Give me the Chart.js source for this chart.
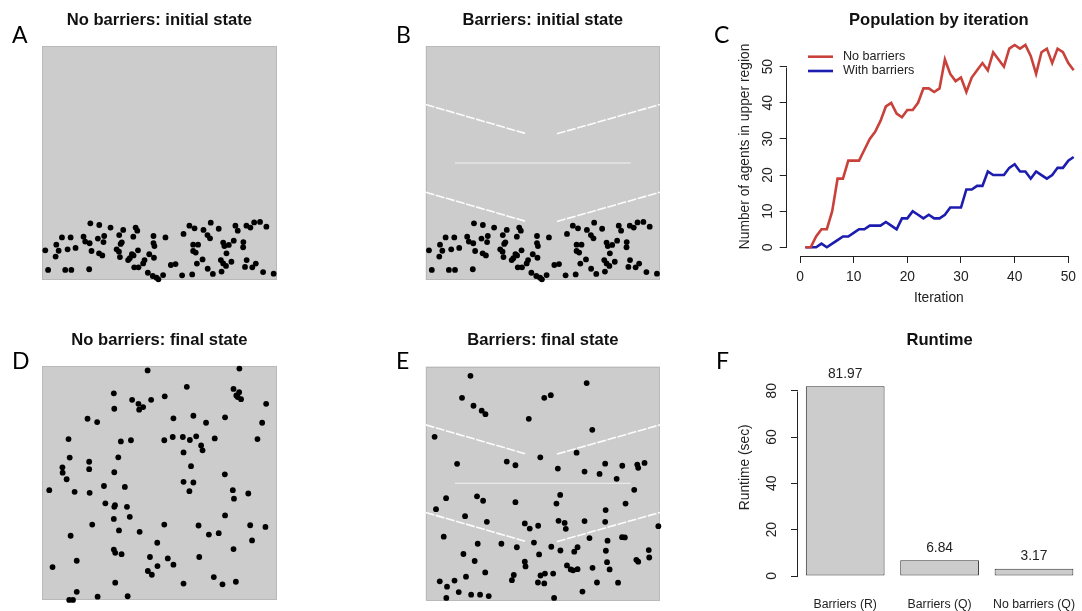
<!DOCTYPE html>
<html>
<head>
<meta charset="utf-8">
<title>Agents moving to the upper region</title>
<script src="https://cdn.jsdelivr.net/npm/chart.js@4.4.1/dist/chart.umd.min.js"></script>
<style>
  html, body { margin: 0; padding: 0; background: #fff; }
  body { width: 1082px; height: 611px; overflow: hidden; position: relative; }
  canvas { position: absolute; }
  .tag { position: absolute; font-family: Lato, 'Open Sans', sans-serif; font-size: 23px; line-height: 23px; color: #000; }
</style>
</head>
<body>
<canvas id="pA" width="330" height="310" style="left:0;top:0"></canvas>
<canvas id="pB" width="330" height="310" style="left:383px;top:0"></canvas>
<canvas id="pC" width="392" height="310" style="left:700px;top:0"></canvas>
<canvas id="pD" width="330" height="291" style="left:0;top:320px"></canvas>
<canvas id="pE" width="330" height="291" style="left:383px;top:320px"></canvas>
<canvas id="pF" width="392" height="291" style="left:700px;top:320px"></canvas>
<div class="tag" style="left:12px;top:23px">A</div>
<div class="tag" style="left:396px;top:23px">B</div>
<div class="tag" style="left:714px;top:23px">C</div>
<div class="tag" style="left:12px;top:349px">D</div>
<div class="tag" style="left:396px;top:349px">E</div>
<div class="tag" style="left:716px;top:349px">F</div>
<script>
'use strict';

// agent positions (0-100 world units), same start for both runs
const initX = [20.6,24.4,29.2,34.6,39.9,40.6,32.9,38.9,47.5,52.6,60.3,62.8,65.0,68.8,71.9,75.3,70.5,71.6,82.4,83.4,
  87.1,88.8,90.4,92.9,95.6,8.5,12.2,17.7,18.4,20.3,23.8,26.5,26.2,6.1,7.1,1.4,10.9,14.3,5.8,21.1,
  24.3,25.7,33.5,34.0,31.8,32.8,33.2,38.3,37.4,40.9,39.0,36.7,47.5,47.9,45.7,47.7,43.7,43.1,41.1,39.3,
  45.1,47.2,48.8,49.6,51.6,54.9,56.9,59.7,64.0,64.4,66.5,64.4,65.5,68.4,66.0,70.6,72.8,77.2,77.7,79.6,
  81.7,85.8,85.7,78.6,76.2,77.2,78.4,80.7,76.5,87.2,86.5,89.6,91.1,94.2,98.7,2.6,9.9,12.5,20.1];
const initY = [24.2,23.5,22.4,21.4,22.4,21.1,19.2,18.5,18.8,18.2,19.7,23.2,22.1,21.4,24.5,21.9,19.2,17.8,23.2,21.1,
  23.2,22.4,24.6,24.8,22.8,18.2,18.2,18.5,16.4,15.7,17.7,18.8,16.2,15.1,12.5,12.7,13.1,13.7,10.0,12.4,
  11.4,10.5,15.4,16.1,13.1,12.1,9.8,11.1,9.3,12.7,10.5,8.5,15.8,14.5,11.0,9.5,8.5,7.1,5.4,5.4,
  3.1,1.7,1.0,0.3,2.1,6.4,6.8,2.0,2.4,15.1,15.1,12.4,11.7,8.8,7.0,4.8,2.6,16.0,14.5,15.0,
  16.8,16.2,14.0,11.4,8.5,7.1,6.0,7.8,3.6,8.5,5.6,5.4,7.0,3.4,2.7,4.3,4.3,4.3,4.6];

const freeX = [45.0,84.1,61.7,81.6,84.0,82.8,83.4,84.8,95.5,30.6,30.8,38.4,41.1,43.1,41.4,46.5,52.3,19.4,23.5,56.0,
  64.5,69.9,78.0,93.8,11.3,33.6,37.9,52.1,55.7,60.0,63.0,65.7,67.8,68.4,73.6,91.8,60.3,11.8,20.1,32.5,
  20.1,8.7,8.8,10.5,30.8,63.5,77.9,60.3,64.5,3.1,13.9,20.3,26.4,35.3,62.8,81.3,87.9,81.8,27.0,
  31.1,30.8,36.2,30.6,37.4,21.4,32.8,41.6,52.1,66.7,71.1,75.3,78.0,88.7,95.2,89.5,12.2,49.1,30.6,31.2,
  33.9,14.8,4.5,46.0,53.6,56.0,49.2,67.0,81.6,45.1,46.8,73.2,76.9,82.6,31.2,60.3,14.8,11.6,13.2,23.7,36.5];
const freeY = [98.1,98.9,91.1,90.2,88.8,87.4,86.7,85.8,83.8,88.3,81.7,85.5,83.8,82.4,81.3,85.5,87.0,77.4,76.0,77.6,
  78.7,75.7,78.0,75.7,68.7,67.7,68.2,68.2,69.6,69.6,68.3,69.9,66.0,63.9,69.0,68.7,63.0,60.8,59.0,60.9,
  55.8,56.6,54.3,51.5,54.5,57.1,53.6,50.4,50.1,46.8,46.1,45.7,48.6,48.2,46.4,46.8,45.4,43.2,41.2,
  40.4,39.7,39.7,34.5,35.4,32.1,29.6,29.0,32.1,31.7,27.8,28.4,36.0,31.8,31.1,25.3,27.3,24.3,21.4,20.0,
  19.4,16.6,13.9,18.2,17.6,14.9,14.3,18.2,21.6,12.2,10.6,9.6,6.5,7.6,7.2,6.8,3.3,-0.2,-0.2,1.2,1.4];

const walledX = [19.1,15.5,20.4,23.9,25.5,44.0,50.6,53.4,68.7,71.1,3.8,13.4,34.6,38.3,48.9,56.4,64.4,67.8,74.2,76.6,
  81.5,83.9,90.3,90.7,93.4,89.0,8.7,21.9,24.5,38.3,57.4,55.8,85.3,4.4,76.8,16.8,26.1,42.3,44.4,48.0,
  56.7,59.3,59.8,67.8,76.6,99.3,7.7,22.2,32.3,38.9,46.2,53.6,57.5,63.4,64.8,69.9,77.6,76.9,83.8,85.0,
  16.1,20.9,48.4,42.3,42.6,60.3,61.9,62.9,64.8,71.2,77.4,78.5,89.9,90.7,95.2,95.4,25.4,37.6,36.8,49.0,
  50.9,54.4,47.9,50.6,17.2,6.0,9.1,12.3,14.1,19.4,23.2,26.9,8.8,54.8,66.9,73.1,82.1];
const walledY = [96.0,86.6,83.2,81.1,79.6,77.6,86.6,87.7,92.9,72.9,69.9,58.3,59.3,57.7,61.1,56.3,63.1,55.0,54.0,58.4,
  51.9,57.5,58.0,56.6,58.7,47.2,43.6,44.4,42.5,41.9,45.0,41.3,41.3,38.9,38.5,35.9,33.5,32.8,30.6,31.8,
  33.9,33.0,30.5,33.8,33.5,31.6,27.1,24.1,24.1,22.6,24.6,22.8,21.2,20.7,22.6,26.5,25.4,21.1,26.9,26.8,
  19.7,16.7,19.5,16.4,14.4,14.8,13.1,12.7,13.2,13.8,16.2,13.1,17.2,16.4,21.4,18.2,11.8,10.7,8.5,10.5,
  11.3,11.3,7.5,7.1,10.0,8.0,5.7,8.3,3.4,2.3,2.3,1.7,0.9,0.9,3.6,7.5,7.4];

// wall segments: [x0, x1] / [y0, y1]
const barrierX = [[0, 43], [56, 100], [12.5, 87.5], [0, 43], [56, 100]];
const barrierY = [[75, 62.5], [62.5, 75], [50, 50], [37.5, 25], [25, 37.5]];

const iterations = [1,2,3,4,5,6,7,8,9,10,11,12,13,14,15,16,17,18,19,20,21,22,23,24,25,26,
  27,28,29,30,31,32,33,34,35,36,37,38,39,40,41,42,43,44,45,46,47,48,49,50,51];
const popNoBarriers = [0,0,3,5,5,10,19,19,24,24,24,27,30,32,35,39,40,37,36,38,38,40,44,44,43,44,
  52,48,46,47,43,47,49,51,49,54,52,50,55,56,55,56,53,48,54,55,51,55,54,51,49];
const popBarriers = [0,0,0,1,0,1,2,3,3,4,5,5,6,6,6,7,6,5,8,8,10,9,8,9,8,8,
  9,11,11,11,16,16,17,17,21,20,20,20,22,23,21,21,19,21,20,19,20,22,22,24,25];
const iterTicks = [0, 10, 20, 30, 40, 50];
const popTicks = [0, 10, 20, 30, 40, 50];

const runNames = ['Barriers (R)', 'Barriers (Q)', 'No barriers (Q)'];
const runSeconds = [81.97, 6.84, 3.17];
const runTicks = [0, 20, 40, 60, 80];

Chart.defaults.font.family = "'Liberation Sans', Arial, Helvetica, sans-serif";
Chart.defaults.color = '#222';

const AXIS = 13.8;
const TITLE_FONT = { size: 16.6, weight: 'bold', lineHeight: 1.2 };
const TITLE_TOP = 10.5;
const TITLE_LH = 16.6 * 1.2;

// grey world background behind the agents
const grayBox = {
  id: 'grayBox',
  beforeDatasetsDraw(chart) {
    const { ctx, chartArea: a } = chart;
    ctx.save();
    ctx.fillStyle = '#cccccc';
    ctx.fillRect(a.left, a.top, a.width, a.height);
    ctx.strokeStyle = '#b9b9b9';
    ctx.lineWidth = 1;
    ctx.strokeRect(Math.round(a.left) + 0.5, Math.round(a.top) + 0.5, Math.round(a.width) - 1, Math.round(a.height) - 1);
    ctx.restore();
  }
};

// base-graphics style axis line: only from first to last tick
const axisLines = {
  id: 'axisLines',
  afterDraw(chart, args, opts) {
    const { ctx, chartArea: a } = chart;
    ctx.save();
    ctx.strokeStyle = '#222';
    ctx.lineWidth = 1;
    (opts.ids || []).forEach(id => {
      const s = chart.scales[id];
      const p0 = s.getPixelForValue(s.ticks[0].value);
      const p1 = s.getPixelForValue(s.ticks[s.ticks.length - 1].value);
      ctx.beginPath();
      if (s.isHorizontal()) {
        const y = Math.round(a.bottom) + 0.5;
        ctx.moveTo(Math.round(p0) + 0.5, y); ctx.lineTo(Math.round(p1) + 0.5, y);
      } else {
        const x = Math.round(a.left) - 0.5;
        ctx.moveTo(x, Math.round(p0) + 0.5); ctx.lineTo(x, Math.round(p1) + 0.5);
      }
      ctx.stroke();
    });
    ctx.restore();
  }
};

// legend drawn inside the plot, top left
const insideLegend = {
  id: 'insideLegend',
  afterDraw(chart, args, opts) {
    const { ctx } = chart;
    ctx.save();
    ctx.font = `12.6px ${Chart.defaults.font.family}`;
    ctx.textBaseline = 'middle';
    ctx.fillStyle = '#222';
    chart.data.datasets.forEach((ds, i) => {
      const y = opts.y + i * opts.step;
      ctx.strokeStyle = ds.borderColor;
      ctx.lineWidth = ds.borderWidth;
      ctx.beginPath();
      ctx.moveTo(opts.x, y); ctx.lineTo(opts.x + 25, y);
      ctx.stroke();
      ctx.fillText(ds.label, opts.x + 35, y);
    });
    ctx.restore();
  }
};

// numbers printed above the bars
const barValues = {
  id: 'barValues',
  afterDatasetsDraw(chart) {
    const { ctx } = chart;
    const meta = chart.getDatasetMeta(0);
    const vals = chart.data.datasets[0].data;
    ctx.save();
    ctx.font = `${AXIS}px ${Chart.defaults.font.family}`;
    ctx.fillStyle = '#222';
    ctx.textAlign = 'center';
    ctx.textBaseline = 'middle';
    meta.data.forEach((bar, i) => ctx.fillText(vals[i].toFixed(2), bar.x, bar.y - 12));
    ctx.restore();
  }
};

const quiet = { legend: { display: false }, tooltip: { enabled: false } };

function boxPanel(id, left, top, box, title, xs, ys, walls) {
  const cv = document.getElementById(id);
  const datasets = [{
    data: xs.map((x, i) => ({ x, y: ys[i] })),
    pointRadius: 2.9,
    pointBackgroundColor: '#000',
    pointBorderWidth: 0,
    clip: false,
    order: 1
  }];
  if (walls) {
    barrierX.forEach((bx, k) => {
      const mid = k === 2;
      datasets.push({
        data: bx.map((x, j) => ({ x, y: barrierY[k][j] })),
        showLine: true,
        pointRadius: 0,
        borderColor: mid ? 'rgba(255,255,255,0.75)' : 'rgba(255,255,255,0.95)',
        borderWidth: mid ? 1.2 : 1.6,
        borderDash: mid ? [] : [9, 1.5],
        order: 2
      });
    });
  }
  return new Chart(cv, {
    type: 'scatter',
    data: { datasets },
    options: {
      responsive: false, animation: false, events: [],
      layout: { padding: { left: box.l - left, right: cv.width - (box.r - left), bottom: cv.height - (box.b - top), top: 0 } },
      plugins: {
        ...quiet,
        title: {
          display: true, text: title, font: TITLE_FONT, color: '#111', fullSize: false,
          padding: { top: TITLE_TOP, bottom: box.t - top - TITLE_TOP - TITLE_LH }
        }
      },
      scales: {
        x: { display: false, min: 0, max: 100 },
        y: { display: false, min: 0, max: 100 }
      }
    },
    plugins: [grayBox]
  });
}

boxPanel('pA', 0, 0, { l: 42, t: 46, r: 276.7, b: 280 }, 'No barriers: initial state', initX, initY, false);
boxPanel('pB', 383, 0, { l: 425.7, t: 46, r: 660, b: 280 }, 'Barriers: initial state', initX, initY, true);
boxPanel('pD', 0, 320, { l: 42, t: 366, r: 276.7, b: 599.5 }, 'No barriers: final state', freeX, freeY, false);
boxPanel('pE', 383, 320, { l: 425.7, t: 366.5, r: 660, b: 600 }, 'Barriers: final state', walledX, walledY, true);

const tickGrid = { drawOnChartArea: false, drawTicks: true, tickLength: 7, color: '#222', lineWidth: 1 };

// C: agents in upper region per iteration
new Chart(document.getElementById('pC'), {
  type: 'line',
  data: {
    datasets: [
      { label: 'No barriers', data: iterations.map((x, i) => ({ x, y: popNoBarriers[i] })),
        borderColor: '#c8413a', borderWidth: 2.6, pointRadius: 0, tension: 0 },
      { label: 'With barriers', data: iterations.map((x, i) => ({ x, y: popBarriers[i] })),
        borderColor: '#1c1cae', borderWidth: 2.6, pointRadius: 0, tension: 0 }
    ]
  },
  options: {
    responsive: false, animation: false, events: [],
    layout: { padding: { right: 1 } },
    plugins: {
      ...quiet,
      title: {
        display: true, text: 'Population by iteration', font: TITLE_FONT, color: '#111', fullSize: false,
        padding: { top: TITLE_TOP, bottom: 36.9 - TITLE_TOP - TITLE_LH }
      },
      insideLegend: { x: 108, y: 56.7, step: 14.3 },
      axisLines: { ids: ['x', 'y'] }
    },
    scales: {
      x: {
        type: 'linear', min: -2.48, max: 54.23,
        afterFit: s => { s.height = 54; },
        afterBuildTicks: s => { s.ticks = iterTicks.map(v => ({ value: v })); },
        ticks: { font: { size: AXIS }, padding: 6, autoSkip: false, maxRotation: 0, callback: v => String(v) },
        grid: tickGrid,
        border: { display: false },
        title: { display: true, text: 'Iteration', font: { size: AXIS }, padding: { top: 0, bottom: 4 } }
      },
      y: {
        min: -2.41, max: 58.25,
        afterFit: s => { s.width = 86.7; },
        afterBuildTicks: s => { s.ticks = popTicks.map(v => ({ value: v })); },
        ticks: { font: { size: AXIS }, padding: 3.7, minRotation: 90, maxRotation: 90, crossAlign: 'center', autoSkip: false, callback: v => String(v) },
        grid: tickGrid,
        border: { display: false },
        title: { display: true, text: 'Number of agents in upper region', font: { size: AXIS }, padding: { top: 36.7, bottom: 0 } }
      }
    }
  },
  plugins: [insideLegend, axisLines]
});

// F: runtime per run
new Chart(document.getElementById('pF'), {
  type: 'bar',
  data: {
    labels: runNames,
    datasets: [{
      data: runSeconds,
      backgroundColor: '#cccccc', borderColor: '#333', borderWidth: 1, borderSkipped: false,
      barPercentage: 0.834, categoryPercentage: 1
    }]
  },
  options: {
    responsive: false, animation: false, events: [],
    layout: { padding: { right: 10.8 } },
    plugins: {
      ...quiet,
      title: {
        display: true, text: 'Runtime', font: TITLE_FONT, color: '#111', fullSize: false,
        padding: { top: TITLE_TOP, bottom: 31 - TITLE_TOP - TITLE_LH }
      },
      axisLines: { ids: ['y'] }
    },
    scales: {
      x: {
        afterFit: s => { s.height = 27.4; },
        ticks: { font: { size: 12.3 }, padding: 5.2, maxRotation: 0, autoSkip: false },
        grid: { display: false },
        border: { display: false }
      },
      y: {
        min: -3.28, max: 97.15,
        afterFit: s => { s.width = 98; },
        afterBuildTicks: s => { s.ticks = runTicks.map(v => ({ value: v })); },
        ticks: { font: { size: AXIS }, padding: 11.6, minRotation: 90, maxRotation: 90, crossAlign: 'center', autoSkip: false, callback: v => String(v) },
        grid: tickGrid,
        border: { display: false },
        title: { display: true, text: 'Runtime (sec)', font: { size: AXIS }, padding: { top: 36.7, bottom: 0 } }
      }
    }
  },
  plugins: [barValues, axisLines]
});
</script>
</body>
</html>
